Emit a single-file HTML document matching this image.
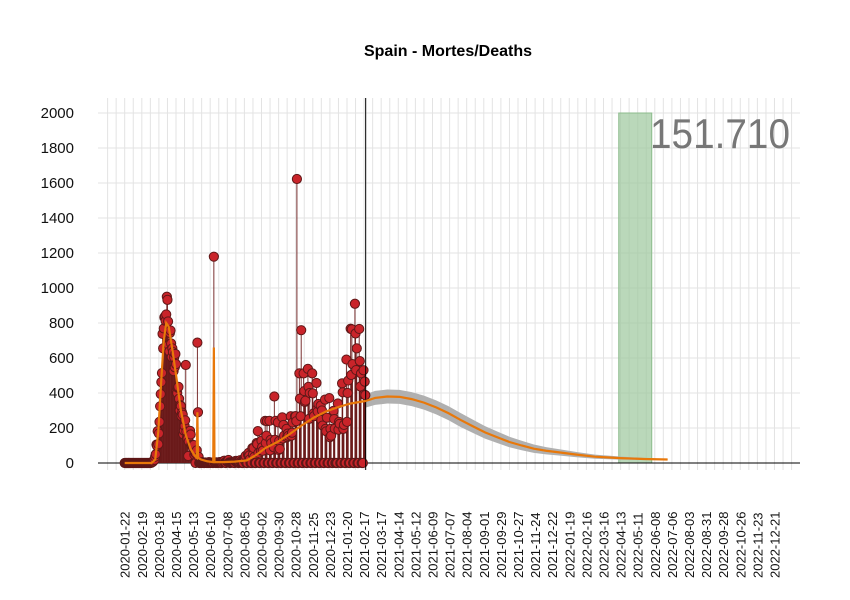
<!DOCTYPE html>
<html><head><meta charset="utf-8"><style>
body{margin:0;background:#fff;}
svg{display:block;font-family:"Liberation Sans",sans-serif;}
</style></head><body>
<svg id="chart" width="850" height="600"></svg>
<script>
// Daily deaths from 2020-01-22 (weekly rows starting Wednesday)
const dailyDeaths = [
0,0,0,0,0,0,0, 0,0,0,0,0,0,0, 0,0,0,0,0,0,0, 0,0,0,0,0,0,0, 0,0,0,0,0,0,0, 0,0,0,0,0,0,0,
0,1,2,5,7,10,17, 18,36,50,105,98,182,107, 169,235,324,394,462,514,738,
655,769,832,838,812,849,950, 932,809,674,637,743,757,683, 605,655,634,525,603,547,623,
565,410,399,430,435,367,301, 331,325,268,288,276,164,185, 213,244,560,179,143,138,40,
123,176,184,163,102,98,104, 87,102,48,59,0,52,72, 688,290,35,0,0,0,0,
2,5,1,0,0,0,3, 1,0,2,0,0,5,1, 0,3,2,1,0,0,1179, 2,3,0,4,0,0,1,
3,5,2,0,0,0,7, 4,11,13,2,0,0,10, 8,5,17,3,0,0,2, 5,4,2,3,0,0,10,
12,7,2,4,0,0,5, 16,8,2,0,0,0,24, 18,26,41,0,0,0,48, 58,43,21,0,0,0,85,
48,86,34,0,0,0,114, 108,182,57,0,0,0,71, 127,90,70,0,0,0,241, 114,156,239,0,0,0,241,
72,132,114,0,0,0,90, 380,132,241,0,0,0,232, 74,126,80,0,0,0,261, 140,217,156,0,0,0,195,
148,168,155,0,0,0,267, 156,173,231,0,0,0,267, 267,239,1623,0,0,0,512, 368,267,759,0,0,0,512,
411,349,356,0,0,0,538, 435,252,400,0,0,0,512, 398,283,268,0,0,0,457, 310,294,337,0,0,0,328,
246,300,214,0,0,0,362, 195,181,259,0,0,0,371, 148,195,156,0,0,0,298, 251,196,0,0,0,0,340,
190,235,224,0,0,0,455, 404,195,218,0,0,0,591, 235,400,471,0,0,0,767, 503,764,565,0,0,0,910,
740,531,655,0,0,0,766, 582,437,512,0,0,0,530, 391,465,388
];
const trendDays = [0,44,50,55,60,64,68,72,78,85,92,100,108,115,118,119,120,125,135,145,146,147,160,180,200,215,230,250,270,290,310,330,350,370,395];
const trendVals = [0,0,20,180,480,700,800,780,650,480,300,160,80,40,30,290,30,20,10,5,660,5,5,8,15,45,85,120,165,215,260,295,320,340,355];
const fcDays = [395,410,430,450,470,490,510,530,550,570,590,610,630,650,670,690,713,740,770,811,850,889];
const fcVals = [355,372,380,378,365,345,318,285,246,210,175,147,120,100,82,70,60,48,36,28,23,20];
const fcHalf = [38,40,40,40,40,40,40,40,40,38,36,33,30,27,24,21,18,15,12,9,6,3];
const yTicks = [0,200,400,600,800,1000,1200,1400,1600,1800,2000];
const xLabels = ["2020-01-22","2020-02-19","2020-03-18","2020-04-15","2020-05-13","2020-06-10","2020-07-08","2020-08-05","2020-09-02","2020-09-30","2020-10-28","2020-11-25","2020-12-23","2021-01-20","2021-02-17","2021-03-17","2021-04-14","2021-05-12","2021-06-09","2021-07-07","2021-08-04","2021-09-01","2021-09-29","2021-10-27","2021-11-24","2021-12-22","2022-01-19","2022-02-16","2022-03-16","2022-04-13","2022-05-11","2022-06-08","2022-07-06","2022-08-03","2022-08-31","2022-09-28","2022-10-26","2022-11-23","2022-12-21"];
const todayDay = 394.6;
const bandStart = 809, bandEnd = 863;
const totalLabel = "151.710";

const NS="http://www.w3.org/2000/svg";
const svg=document.getElementById('chart');
const X=d=>124.7+d*0.6107;
const Y=v=>463-v*0.175;
function el(t,a,p){const e=document.createElementNS(NS,t);for(const k in a)e.setAttribute(k,a[k]);(p||svg).appendChild(e);return e;}

const title=el('text',{x:448,y:56,'text-anchor':'middle','font-size':16,'font-weight':'bold'});
title.textContent="Spain - Mortes/Deaths";



const grid=el('g',{stroke:'#e3e3e3','stroke-width':1});


for(let d=-28;d<=1110;d+=14){const x=X(d);if(x<98||x>800)continue;el('line',{x1:x,x2:x,y1:98,y2:470},grid);}
yTicks.forEach(v=>{el('line',{x1:98,x2:800,y1:Y(v),y2:Y(v)},grid);
 const t=el('text',{x:74,y:Y(v)+5,'text-anchor':'end','font-size':15,fill:'#111'});t.textContent=v;
 
 });

xLabels.forEach((s,i)=>{const x=X(i*28);
 const t=el('text',{transform:`translate(${x+5},578) rotate(-90)`,'font-size':13,fill:'#111'});t.textContent=s;
 
 });

const band=el('rect',{x:X(bandStart),y:Y(2000),width:X(bandEnd)-X(bandStart),height:Y(0)-Y(2000),fill:'#9dc79d','fill-opacity':0.7,stroke:'#8cbb8c'});



const tot=el('text',{x:650,y:148,'font-size':42,fill:'#777',textLength:140,lengthAdjust:'spacingAndGlyphs'});tot.textContent=totalLabel;



// forecast band
let up=fcDays.map((d,i)=>X(d)+','+Y(fcVals[i]+fcHalf[i]));
let lo=fcDays.map((d,i)=>X(d)+','+Y(Math.max(0,fcVals[i]-fcHalf[i]))).reverse();
const fb=el('polygon',{points:up.concat(lo).join(' '),fill:'#b0b0b0'});



// peak rect
const pk=el('rect',{x:X(68),y:Y(740),width:3,height:Y(0)-Y(740),fill:'#d98a96',stroke:'#b84055'});



// axes
const ax=el('line',{x1:98,x2:800,y1:463,y2:463,stroke:'#000'});



// stems + points
const stems=el('g',{stroke:'#6b1a1a','stroke-width':0.9});


const pts=el('g',{fill:'#c9242a',stroke:'#5e1818','stroke-width':1});


dailyDeaths.forEach((v,d)=>{
 if(v>0)el('line',{x1:X(d),x2:X(d),y1:Y(0),y2:Y(v)},stems);
 const c=el('circle',{cx:X(d),cy:Y(v),r:4.6},pts);
 
 
});

const vl=el('line',{x1:X(todayDay),x2:X(todayDay),y1:98,y2:470,stroke:'#000'});



const tr=el('polyline',{points:trendDays.map((d,i)=>X(d)+','+Y(trendVals[i])).join(' '),fill:'none',stroke:'#e8780a','stroke-width':2.2});


const fl=el('polyline',{points:fcDays.map((d,i)=>X(d)+','+Y(fcVals[i])).join(' '),fill:'none',stroke:'#e8780a','stroke-width':2.2});


</script>
</body></html>
